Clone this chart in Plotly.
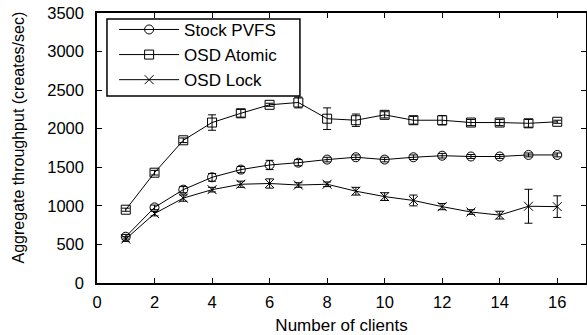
import plotly.graph_objects as go

clients = list(range(1, 17))

stock_pvfs = [600, 980, 1210, 1370, 1470, 1530, 1560, 1600, 1630, 1600, 1630, 1650, 1640, 1640, 1660, 1660]
stock_err = [30, 30, 40, 50, 40, 60, 40, 30, 30, 30, 30, 30, 25, 25, 25, 25]

osd_atomic = [950, 1430, 1850, 2080, 2200, 2310, 2340, 2130, 2110, 2180, 2110, 2110, 2080, 2080, 2070, 2090]
atomic_err = [20, 30, 30, 100, 50, 20, 70, 140, 80, 40, 50, 60, 40, 40, 50, 20]

osd_lock = [570, 900, 1100, 1210, 1280, 1290, 1270, 1280, 1190, 1120, 1070, 990, 920, 880, 995, 990]
lock_err = [30, 30, 40, 30, 40, 60, 30, 30, 50, 50, 70, 40, 30, 50, 220, 140]

series = [
    ("Stock PVFS", stock_pvfs, stock_err, "circle-open"),
    ("OSD Atomic", osd_atomic, atomic_err, "square-open"),
    ("OSD Lock", osd_lock, lock_err, "x-thin-open"),
]

x_ticks = list(range(0, 17, 2))
y_ticks = list(range(0, 3501, 500))

FONT = "Liberation Sans, Arial, sans-serif"

fig = go.Figure()
for name, vals, errs, sym in series:
    fig.add_trace(go.Scatter(
        x=clients, y=vals, name=name, mode="lines+markers",
        line=dict(color="black", width=1),
        marker=dict(symbol=sym, size=9, color="black", line=dict(color="black", width=1)),
        error_y=dict(type="data", array=errs, visible=True, color="black", thickness=1, width=4),
    ))

axis_common = dict(
    showline=True, linecolor="black", linewidth=1.5, mirror="ticks",
    ticks="inside", ticklen=5, tickcolor="black", showgrid=False, zeroline=False,
    automargin=False, ticklabeloverflow="allow",
    tickfont=dict(family=FONT, size=16.5, color="black"),
)

fig.update_layout(
    width=587, height=335,
    margin=dict(l=97, r=1, t=13, b=52),
    plot_bgcolor="white", paper_bgcolor="white",
    font=dict(family=FONT, size=16, color="black"),
    xaxis=dict(range=[0, 17], tickmode="array", tickvals=x_ticks, ticklabelstandoff=3,
               title=dict(text="Number of clients", font=dict(size=17)), **axis_common),
    yaxis=dict(range=[0, 3500], tickmode="array", tickvals=y_ticks, ticklabelstandoff=8,
               **axis_common),
    legend=dict(x=0.035, y=1.004, xanchor="left", yanchor="top",
                borderwidth=0, bgcolor="rgba(0,0,0,0)",
                font=dict(size=17), tracegroupgap=0, itemwidth=60),
    showlegend=True,
    shapes=[dict(type="rect", xref="paper", yref="paper",
                 x0=0.0204, x1=0.415, y0=0.6926, y1=0.978,
                 line=dict(color="black", width=1.5), fillcolor="white", layer="below")],
    annotations=[dict(text="Aggregate throughput (creates/sec)", xref="paper", yref="paper",
                      x=-0.1616, y=0.539, xanchor="center", yanchor="middle", textangle=-90,
                      showarrow=False, font=dict(family=FONT, size=16, color="black"))],
)

fig.write_html("out.html", config={"displayModeBar": False},
               post_script="document.body.style.margin='0';")
